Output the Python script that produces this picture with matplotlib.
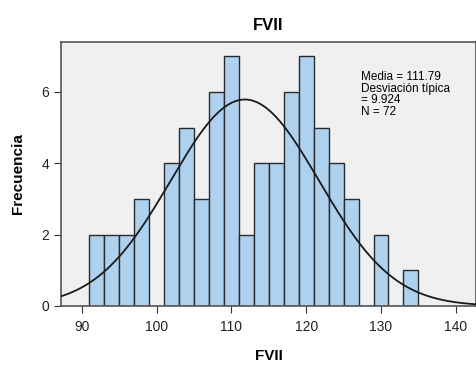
import numpy as np
import matplotlib
matplotlib.use("Agg")
import matplotlib.pyplot as plt

plt.rcParams['font.family'] = ['Liberation Sans', 'DejaVu Sans']

# histogram bins (width 2) and counts
bin_left = [91, 93, 95, 97, 99, 101, 103, 105, 107, 109, 111, 113, 115,
            117, 119, 121, 123, 125, 127, 129, 131, 133]
counts = [2, 2, 2, 3, 0, 4, 5, 3, 6, 7, 2, 4, 4, 6, 7, 5, 4, 3, 0, 2, 0, 1]
bin_width = 2
mean = 111.79
sd = 9.924
n = 72

fig = plt.figure(figsize=(4.76, 3.69), dpi=100)
ax = fig.add_axes([0.128, 0.171, 0.872, 0.715])
ax.set_facecolor('#f0f0f0')

ax.bar(bin_left, counts, width=bin_width, align='edge',
       color='#aed1ef', edgecolor='#2b2b2b', linewidth=1.0, zorder=2)

# normal curve scaled to the histogram
xs = np.linspace(86, 143, 400)
ys = n * bin_width / (sd * np.sqrt(2 * np.pi)) * np.exp(-0.5 * ((xs - mean) / sd) ** 2)
ax.plot(xs, ys, color='#1a1a1a', linewidth=1.3, zorder=3)

ax.set_xlim(87.2, 142.7)
ax.set_ylim(0, 7.4)
ax.set_xticks([90, 100, 110, 120, 130, 140])
ax.set_yticks([0, 2, 4, 6])
ax.tick_params(labelsize=10, length=5, color='#333333', labelcolor='#222222')
ax.tick_params(axis='x', pad=5)

for side in ['top', 'right', 'left', 'bottom']:
    ax.spines[side].set_color('#555555')
    ax.spines[side].set_linewidth(1.2)

ax.set_title('FVII', fontsize=12, fontweight='bold', pad=9)
ax.set_xlabel('FVII', fontsize=11, fontweight='bold', labelpad=11)
ax.set_ylabel('Frecuencia', fontsize=11, fontweight='bold', labelpad=12)

ax.text(0.723, 0.89, 'Media = %.2f\nDesviación típica\n= %.3f\nN = %d' % (mean, sd, n),
        transform=ax.transAxes, fontsize=8.5, va='top', ha='left', linespacing=0.95)

fig.savefig('out.png', dpi=100)
